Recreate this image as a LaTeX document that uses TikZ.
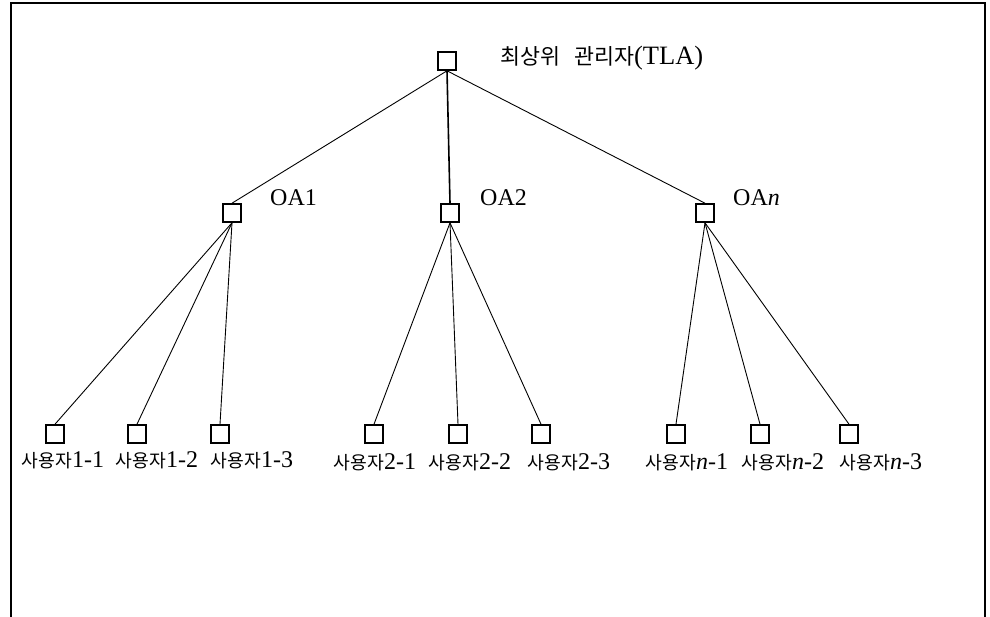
\documentclass[tikz,border=0pt]{standalone}
\usepackage{fontspec}
\setmainfont{Liberation Serif}
\newfontfamily\kr[Scale=0.76]{Noto Sans CJK KR}
\newfontfamily\krbig[Scale=0.82]{Noto Sans CJK KR}
\newcommand\usr[1]{{\kr 사용자}#1}
\begin{document}
\begin{tikzpicture}[x=1pt,y=-1pt,
  box/.style={draw,line width=1.6pt,minimum size=18pt,inner sep=0pt},
  lab/.style={inner sep=0pt,font=\fontsize{24}{27}\selectfont},
  edge/.style={line width=0.9pt},
  trunk/.style={line width=1.6pt}]
\useasboundingbox (0,0) rectangle (990,617);
% open frame
\draw[line width=2pt] (11,617) -- (11,3) -- (985,3) -- (985,617);

% top level administrator
\node[box] (tla) at (447,61) {};
\node[lab,anchor=base west,font=\fontsize{26.5}{29}\selectfont] (tlal) at (500,65)
  {{\krbig 최상위\hspace{14pt}관리자}(TLA)};

% organisation administrators
\node[box] (oa1) at (232,213) {};
\node[box] (oa2) at (450,213) {};
\node[box] (oan) at (705,213) {};
\node[lab,anchor=base west] (oa1l) at (270,206) {OA1};
\node[lab,anchor=base west] (oa2l) at (480,206) {OA2};
\node[lab,anchor=base west] (oanl) at (733,206) {OA\textit{n}};

% users
\node[box] (u11) at (55,434) {};
\node[box] (u12) at (137,434) {};
\node[box] (u13) at (220,434) {};
\node[box] (u21) at (374,434) {};
\node[box] (u22) at (458,434) {};
\node[box] (u23) at (541,434) {};
\node[box] (un1) at (676,434) {};
\node[box] (un2) at (760,434) {};
\node[box] (un3) at (849,434) {};

\node[lab,anchor=base] (u11l) at (63,467) {\usr{1-1}};
\node[lab,anchor=base] (u12l) at (157,467) {\usr{1-2}};
\node[lab,anchor=base] (u13l) at (252,467) {\usr{1-3}};
\node[lab,anchor=base] (u21l) at (375,469) {\usr{2-1}};
\node[lab,anchor=base] (u22l) at (470,469) {\usr{2-2}};
\node[lab,anchor=base] (u23l) at (569,469) {\usr{2-3}};
\node[lab,anchor=base] (un1l) at (687,469) {\usr{\textit{n}-1}};
\node[lab,anchor=base] (un2l) at (783,469) {\usr{\textit{n}-2}};
\node[lab,anchor=base] (un3l) at (881,469) {\usr{\textit{n}-3}};

% connectors
\draw[edge] (tla.south) -- (oa1.north);
\draw[trunk] (tla.south) -- (oa2.north);
\draw[edge] (tla.south) -- (oan.north);
\foreach \p/\c in {oa1/u11,oa1/u12,oa1/u13,oa2/u21,oa2/u22,oa2/u23,oan/un1,oan/un2,oan/un3}
  \draw[edge] (\p.south) -- (\c.north);
\end{tikzpicture}
\end{document}
